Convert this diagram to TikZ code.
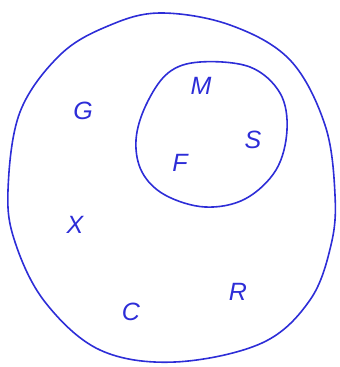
\documentclass[tikz,border=0pt]{standalone}
\usepackage{fontspec}
\setmainfont{Liberation Sans}
\definecolor{ink}{RGB}{45,45,215}
\begin{document}
\begin{tikzpicture}[x=1pt,y=-1pt,
  outline/.style={draw=ink,line width=1.6pt},
  letter/.style={text=ink,font=\fontsize{25}{25}\selectfont\itshape,inner sep=0pt}]
\useasboundingbox (0,0) rectangle (340,367);
\draw[outline] plot[smooth cycle,tension=0.6] coordinates {
 (160,13) (230,25) (290,60) (325,125) (335,195) (331,245) (310,300)
 (262,343) (175,362) (100,350) (45,302) (15,242) (8,190) (20,112) (60,55) (108,26)};
\draw[outline] plot[smooth cycle,tension=0.6] coordinates {
 (200,62) (250,67) (280,93) (287,130) (276,170) (245,199) (205,207)
 (165,195) (142,172) (136,140) (146,105) (168,73)};
\node[letter] (G) at (83,111) {G};
\node[letter] (M) at (201,86) {M};
\node[letter] (S) at (253,140) {S};
\node[letter] (F) at (180,163) {F};
\node[letter] (X) at (75,225) {X};
\node[letter] (C) at (131,312) {C};
\node[letter] (R) at (238,292) {R};
\end{tikzpicture}
\end{document}
